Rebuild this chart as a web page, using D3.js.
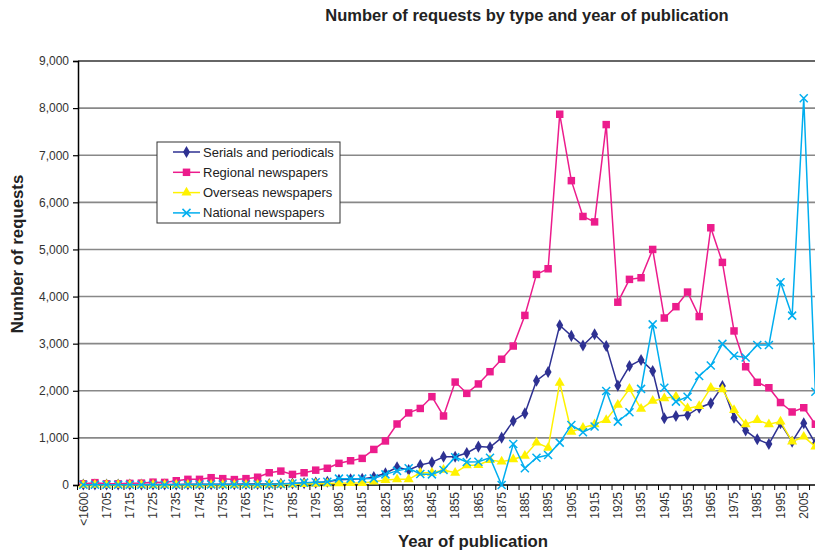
<!DOCTYPE html>
<html>
<head>
<meta charset="utf-8">
<script src="https://cdn.jsdelivr.net/npm/d3@7"></script>
<style>
  body { margin: 0; background: #fff; }
  svg { display: block; font-family: "Liberation Sans", Arial, sans-serif; }
</style>
</head>
<body>
<svg width="815" height="550"></svg>
<script>
const categories = ['<1600', '1700', '1705', '1710', '1715', '1720', '1725', '1730', '1735', '1740',
    '1745', '1750', '1755', '1760', '1765', '1770', '1775', '1780', '1785', '1790',
    '1795', '1800', '1805', '1810', '1815', '1820', '1825', '1830', '1835', '1840',
    '1845', '1850', '1855', '1860', '1865', '1870', '1875', '1880', '1885', '1890',
    '1895', '1900', '1905', '1910', '1915', '1920', '1925', '1930', '1935', '1940',
    '1945', '1950', '1955', '1960', '1965', '1970', '1975', '1980', '1985', '1990',
    '1995', '2000', '2005', '2010'];

const serials = [10, 10, 10, 10, 10, 10, 10, 10, 10, 15,
    15, 15, 15, 15, 20, 20, 20, 25, 30, 40,
    50, 70, 110, 120, 130, 170, 250, 375, 320, 425,
    480, 600, 600, 680, 815, 800, 1005, 1360, 1520, 2215,
    2400, 3390, 3165, 2960, 3200, 2950, 2110, 2525, 2655, 2420,
    1415, 1465, 1485, 1640, 1735, 2100, 1430, 1155, 970, 870,
    1310, 920, 1310, 885];

const regional = [25, 50, 25, 25, 35, 40, 60, 55, 90, 120,
    120, 155, 135, 115, 135, 165, 260, 295, 225, 260,
    315, 355, 460, 515, 565, 755, 935, 1295, 1530, 1625,
    1875, 1465, 2185, 1945, 2145, 2405, 2670, 2950, 3600, 4470,
    4590, 7870, 6460, 5700, 5585, 7650, 3880, 4365, 4400, 5000,
    3545, 3785, 4095, 3575, 5460, 4725, 3270, 2510, 2180, 2065,
    1750, 1550, 1640, 1290];

const overseas = [5, 5, 5, 5, 5, 5, 5, 5, 5, 5,
    5, 5, 5, 5, 5, 5, 10, 10, 15, 20,
    25, 30, 35, 40, 40, 70, 105, 120, 120, 260,
    260, 320, 260, 415, 425, 530, 495, 545, 620, 900,
    790, 2170, 1130, 1215, 1290, 1380, 1700, 2040, 1615, 1785,
    1840, 1875, 1625, 1675, 2065, 2030, 1590, 1290, 1380, 1290,
    1345, 920, 1025, 815];

const national = [5, 5, 5, 5, 5, 5, 5, 5, 5, 10,
    10, 10, 10, 10, 10, 10, 10, 20, 30, 50,
    60, 70, 135, 135, 135, 140, 225, 300, 355, 235,
    225, 320, 590, 490, 495, 580, 0, 870, 355, 580,
    635, 900, 1275, 1120, 1240, 1995, 1345, 1545, 2040, 3410,
    2065, 1770, 1875, 2315, 2535, 2995, 2745, 2705, 2970, 2970,
    4305, 3595, 8210, 1980];

const yTicks = [0, 1000, 2000, 3000, 4000, 5000, 6000, 7000, 8000, 9000];

const seriesNames = ['Serials and periodicals', 'Regional newspapers', 'Overseas newspapers', 'National newspapers'];
const seriesColors = ['#2e3192', '#ec1c8c', '#fff200', '#00aeef'];
const seriesMarkers = ['diamond', 'square', 'triangle', 'x'];
const seriesValues = [serials, regional, overseas, national];

const svg = d3.select('svg');

const plotLeft = 78;
const plotTop = 61;
const plotBottom = 485;
const step = 11.62;

const x = d3.scaleBand()
    .domain(categories)
    .range([plotLeft - 0.5, plotLeft - 0.5 + step * categories.length])
    .padding(0);

const y = d3.scaleLinear()
    .domain([0, 9000])
    .range([plotBottom, plotTop]);

const cx = d => x(d) + x.bandwidth() / 2;

// gridlines
svg.append('g')
    .selectAll('line')
    .data(yTicks.slice(1))
    .join('line')
    .attr('x1', plotLeft)
    .attr('x2', 815)
    .attr('y1', d => y(d))
    .attr('y2', d => y(d))
    .attr('stroke', d => d === 9000 ? '#333' : '#888')
    .attr('stroke-width', 1.6);

// y axis
const yAxis = svg.append('g')
    .attr('transform', `translate(${plotLeft},0)`)
    .call(d3.axisLeft(y).tickValues(yTicks).tickFormat(d3.format(',')).tickSize(5).tickPadding(4));
yAxis.select('.domain').attr('stroke', '#000').attr('stroke-width', 1.5);
yAxis.selectAll('.tick line').attr('stroke', '#000').attr('stroke-width', 1.2);
yAxis.selectAll('.tick text')
    .attr('font-size', 12)
    .attr('fill', '#333')
    .attr('font-family', '"Liberation Sans", Arial, sans-serif');

// x axis
const xAxisG = svg.append('g');
xAxisG.append('line')
    .attr('x1', plotLeft)
    .attr('x2', 815)
    .attr('y1', plotBottom)
    .attr('y2', plotBottom)
    .attr('stroke', '#000')
    .attr('stroke-width', 1.5);

xAxisG.selectAll('line.tick')
    .data(categories)
    .join('line')
    .attr('class', 'tick')
    .attr('x1', d => x(d))
    .attr('x2', d => x(d))
    .attr('y1', plotBottom)
    .attr('y2', plotBottom + 5)
    .attr('stroke', '#000')
    .attr('stroke-width', 1);

xAxisG.selectAll('text')
    .data(categories.filter((d, i) => i % 2 === 0))
    .join('text')
    .attr('transform', d => `translate(${cx(d)},${plotBottom + 7}) rotate(-90)`)
    .attr('text-anchor', 'end')
    .attr('dy', '0.35em')
    .attr('font-size', 12)
    .attr('fill', '#333')
    .text(d => d);

// marker shapes
function marker(sel, type, color) {
    if (type === 'x') {
        sel.append('path')
            .attr('d', 'M-4,-4L4,4M-4,4L4,-4')
            .attr('stroke', color)
            .attr('stroke-width', 1.5)
            .attr('fill', 'none');
    } else {
        const sym = { diamond: d3.symbolDiamond, square: d3.symbolSquare, triangle: d3.symbolTriangle }[type];
        const size = { diamond: 42, square: 56, triangle: 44 }[type];
        sel.append('path')
            .attr('d', d3.symbol().type(sym).size(size)())
            .attr('fill', color);
    }
}

const line = d3.line()
    .x((d, i) => cx(categories[i]))
    .y(d => y(d));

seriesValues.forEach((vals, s) => {
    const g = svg.append('g');
    g.append('path')
        .datum(vals)
        .attr('d', line)
        .attr('fill', 'none')
        .attr('stroke', seriesColors[s])
        .attr('stroke-width', 1.5);
    g.selectAll('g.m')
        .data(vals)
        .join('g')
        .attr('class', 'm')
        .attr('transform', (d, i) => `translate(${cx(categories[i])},${y(d)})`)
        .each(function () { marker(d3.select(this), seriesMarkers[s], seriesColors[s]); });
});

// legend
const legend = svg.append('g').attr('transform', 'translate(157,142)');
legend.append('rect')
    .attr('width', 183)
    .attr('height', 81)
    .attr('fill', '#fff')
    .attr('stroke', '#333')
    .attr('stroke-width', 1);

seriesNames.forEach((name, s) => {
    const row = legend.append('g').attr('transform', `translate(0,${10 + s * 20.3})`);
    row.append('line')
        .attr('x1', 16)
        .attr('x2', 43)
        .attr('stroke', seriesColors[s])
        .attr('stroke-width', 1.5);
    marker(row.append('g').attr('transform', 'translate(29.5,0)'), seriesMarkers[s], seriesColors[s]);
    row.append('text')
        .attr('x', 46)
        .attr('dy', '0.35em')
        .attr('font-size', 13)
        .attr('fill', '#222')
        .text(name);
});

// titles
svg.append('text')
    .attr('x', 527)
    .attr('y', 21)
    .attr('text-anchor', 'middle')
    .attr('font-size', 16.5)
    .attr('font-weight', 'bold')
    .attr('fill', '#222')
    .text('Number of requests by type and year of publication');

svg.append('text')
    .attr('x', 473)
    .attr('y', 547)
    .attr('text-anchor', 'middle')
    .attr('font-size', 16.8)
    .attr('font-weight', 'bold')
    .attr('fill', '#222')
    .text('Year of publication');

svg.append('text')
    .attr('transform', 'translate(23,254) rotate(-90)')
    .attr('text-anchor', 'middle')
    .attr('font-size', 16.8)
    .attr('font-weight', 'bold')
    .attr('fill', '#222')
    .text('Number of requests');
</script>
</body>
</html>
